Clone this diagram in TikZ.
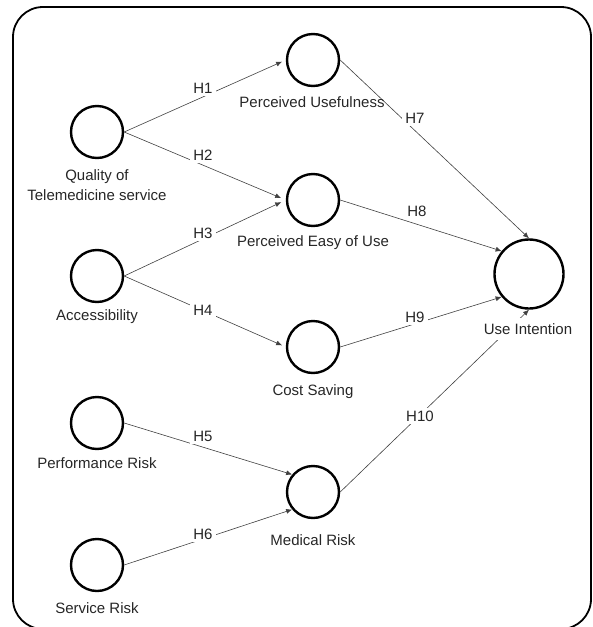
\documentclass[tikz,border=0pt]{standalone}
\usepackage{fontspec}
\setmainfont{Liberation Sans}
\usetikzlibrary{arrows.meta}

\begin{document}
\begin{tikzpicture}[
  x=1pt, y=-1pt,
  construct/.style={draw,circle,line width=2.4pt,minimum size=52pt,inner sep=0pt},
  bigconstruct/.style={construct,minimum size=69pt},
  varname/.style={align=center,inner sep=1pt,text=black!85,
                  font=\fontsize{15}{20}\selectfont},
  hyp/.style={fill=white,inner sep=3pt,text=black!85,
              font=\fontsize{15}{18}\selectfont},
  link/.style={-{Latex[length=6pt,width=5pt]},line width=0.6pt,black!75}
]
\useasboundingbox (0,0) rectangle (593,627);
\draw[rounded corners=30pt,line width=1.8pt] (13,7) rectangle (591,629);

% constructs
\node[construct] (qual) at (97,132) {};
\node[construct] (acc)  at (97,276) {};
\node[construct] (perf) at (97,423) {};
\node[construct] (serv) at (97,565) {};
\node[construct] (pu)   at (313,60) {};
\node[construct] (peou) at (313,200) {};
\node[construct] (cost) at (313,347) {};
\node[construct] (med)  at (313,492) {};
\node[bigconstruct] (ui) at (529,274) {};

% hypotheses
\draw[link,shorten >=4pt] (qual.east) -- (pu.west);
\draw[link,shorten >=5pt] (qual.east) -- (peou.west);
\draw[link,shorten >=5pt] (acc.east) -- (peou.west);
\draw[link,shorten >=4pt] (acc.east) -- (cost.west);
\draw[link] (perf.east) -- (med.140);
\draw[link] (serv.east) -- (med.220);
\draw[link] (pu.east) -- (ui.north);
\draw[link] (peou.east) -- (ui.140);
\draw[link] (cost.east) -- (ui.220);
\draw[link] (med.east) -- (ui.south);

\node[hyp] (h1) at (203,88) {H1};
\node[hyp] (h2) at (203,155) {H2};
\node[hyp] (h3) at (203,233) {H3};
\node[hyp] (h4) at (203,310) {H4};
\node[hyp] (h5) at (203,436) {H5};
\node[hyp] (h6) at (203,534) {H6};
\node[hyp] (h7) at (415,118) {H7};
\node[hyp] (h8) at (417,211) {H8};
\node[hyp] (h9) at (415,317) {H9};
\node[hyp] (h10) at (420,416) {H10};

% construct names
\node[varname] (qualname) at (97,185) {Quality of\\Telemedicine service};
\node[varname] (accname)  at (97,317) {Accessibility};
\node[varname] (perfname) at (97,463) {Performance Risk};
\node[varname] (servname) at (97,608) {Service Risk};
\node[varname] (puname)   at (312,102) {Perceived Usefulness};
\node[varname] (peouname) at (313,243) {Perceived Easy of Use};
\node[varname] (costname) at (313,392) {Cost Saving};
\node[varname] (medname)  at (313,540) {Medical Risk};
\node[varname,fill=white,inner sep=5pt] (uiname) at (528,329) {Use Intention};
\end{tikzpicture}
\end{document}
